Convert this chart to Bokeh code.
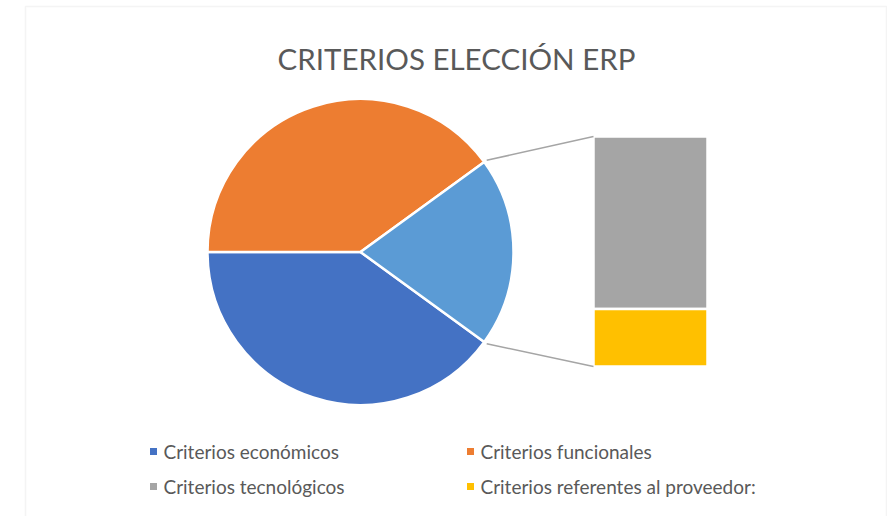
import numpy as np
from bokeh.plotting import figure
from bokeh.models import Range1d, ColumnDataSource, BoxAnnotation
from bokeh.core.properties import value
from bokeh.embed import file_html
from bokeh.resources import INLINE

title = "CRITERIOS ELECCIÓN ERP"
pie_labels = ["Criterios económicos", "Criterios funcionales"]
pie_values = [40, 40]
bar_labels = ["Criterios tecnológicos", "Criterios referentes al proveedor:"]
bar_values = [15, 5]
pie_colors = ["#4472C4", "#ED7D31"]
other_color = "#5B9BD5"
bar_colors = ["#A5A5A5", "#FFC000"]

W, H = 887, 516
p = figure(width=W, height=H, output_backend="svg", toolbar_location=None,
           x_range=Range1d(0, W), y_range=Range1d(0, H), min_border=0)
p.axis.visible = False
p.grid.visible = False
p.outline_line_color = None
p.background_fill_color = "white"

# light frame
p.add_layout(BoxAnnotation(left=25, right=886, top=H - 6, bottom=-20,
                           fill_color=None, line_color="#d9d9d9", line_width=1.5))

def py(y):
    return H - y

# pie
cx, cy, r = 360, py(251.5), 153
total = sum(pie_values) + sum(bar_values)
other = sum(bar_values)
other_span = 2 * np.pi * other / total
start = other_span / 2
angles = []
for v in pie_values[::-1]:
    span = 2 * np.pi * v / total
    angles.append((start, start + span))
    start += span
angles = angles[::-1]
src = ColumnDataSource(dict(
    start=[a[0] for a in angles] + [-other_span / 2],
    end=[a[1] for a in angles] + [other_span / 2],
    color=pie_colors + [other_color]))
p.wedge(x=cx, y=cy, radius=r, start_angle="start", end_angle="end",
        fill_color="color", line_color="white", line_width=2.5, source=src)

# bar
bx0, bx1 = 593, 707
btop, bbot = py(136), py(366)
scale = (btop - bbot) / other
bottoms, tops = [], []
acc = 0
for v in bar_values[::-1]:
    bottoms.append(bbot + acc * scale)
    acc += v
    tops.append(bbot + acc * scale)
bottoms, tops = bottoms[::-1], tops[::-1]
p.quad(left=bx0, right=bx1, bottom=bottoms, top=tops, fill_color=bar_colors,
       line_color="white", line_width=2.5)

# connectors
a = other_span / 2
p.segment(x0=[cx + (r + 3) * np.cos(a), cx + (r + 3) * np.cos(-a)],
          y0=[cy + (r + 3) * np.sin(a), cy + (r + 3) * np.sin(-a)],
          x1=[bx0, bx0], y1=[btop, bbot], line_color="#A5A5A5", line_width=1.5)

# title
p.text(x=[456], y=[py(57.5)], text=[title], text_align="center",
       text_baseline="alphabetic", text_font=value("Lato"),
       text_font_size="29.5px", text_color="#595959")

# legend
labels = pie_labels + bar_labels
colors = pie_colors + bar_colors
mx = [153, 470, 153, 470]
my = [py(451), py(451), py(486), py(486)]
p.scatter(x=mx, y=my, marker="square", size=7, fill_color=colors, line_color=None)
p.text(x=[m + 10 for m in mx], y=[y for y in my], text=labels,
       text_align="left", text_baseline="middle", text_font=value("Lato"),
       text_font_size="19px", text_color="#595959")

open("out.html", "w").write(file_html(p, INLINE))
